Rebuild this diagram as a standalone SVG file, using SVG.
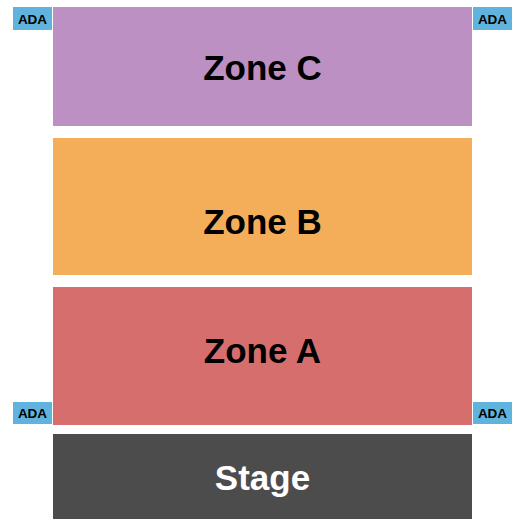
<svg xmlns="http://www.w3.org/2000/svg" width="525" height="525" viewBox="0 0 525 525">
<style>
.zt{font-family:"Liberation Sans",Arial,sans-serif;font-weight:bold;font-size:35px;text-anchor:middle;fill:#000}
.ada rect{fill:#5FB3DC}
.ada text{font-family:"Liberation Sans",Arial,sans-serif;font-weight:bold;font-size:13.5px;text-anchor:middle;fill:#000}
</style>
<rect width="525" height="525" fill="#fff"/>
<g id="zoneC"><rect x="53" y="7" width="419" height="119" fill="#BC90C2"/><text class="zt" x="262.5" y="80">Zone C</text></g>
<g id="zoneB"><rect x="53" y="138" width="419" height="137" fill="#F4AE5A"/><text class="zt" x="262.5" y="234">Zone B</text></g>
<g id="zoneA"><rect x="53" y="287" width="419" height="138" fill="#D76E6E"/><text class="zt" x="262.5" y="363">Zone A</text></g>
<g id="stage"><rect x="53" y="434" width="419" height="85" fill="#4C4C4C"/><text class="zt" x="262.5" y="490" style="fill:#fff">Stage</text></g>
<g id="adaTL" class="ada"><rect x="13" y="7" width="39" height="23"/><text x="32.5" y="23.5">ADA</text></g>
<g id="adaTR" class="ada"><rect x="473" y="7" width="39" height="23"/><text x="492.5" y="23.5">ADA</text></g>
<g id="adaBL" class="ada"><rect x="13" y="402" width="39" height="22"/><text x="32.5" y="418">ADA</text></g>
<g id="adaBR" class="ada"><rect x="473" y="402" width="39" height="22"/><text x="492.5" y="418">ADA</text></g>
<g id="connectors"/>
</svg>
